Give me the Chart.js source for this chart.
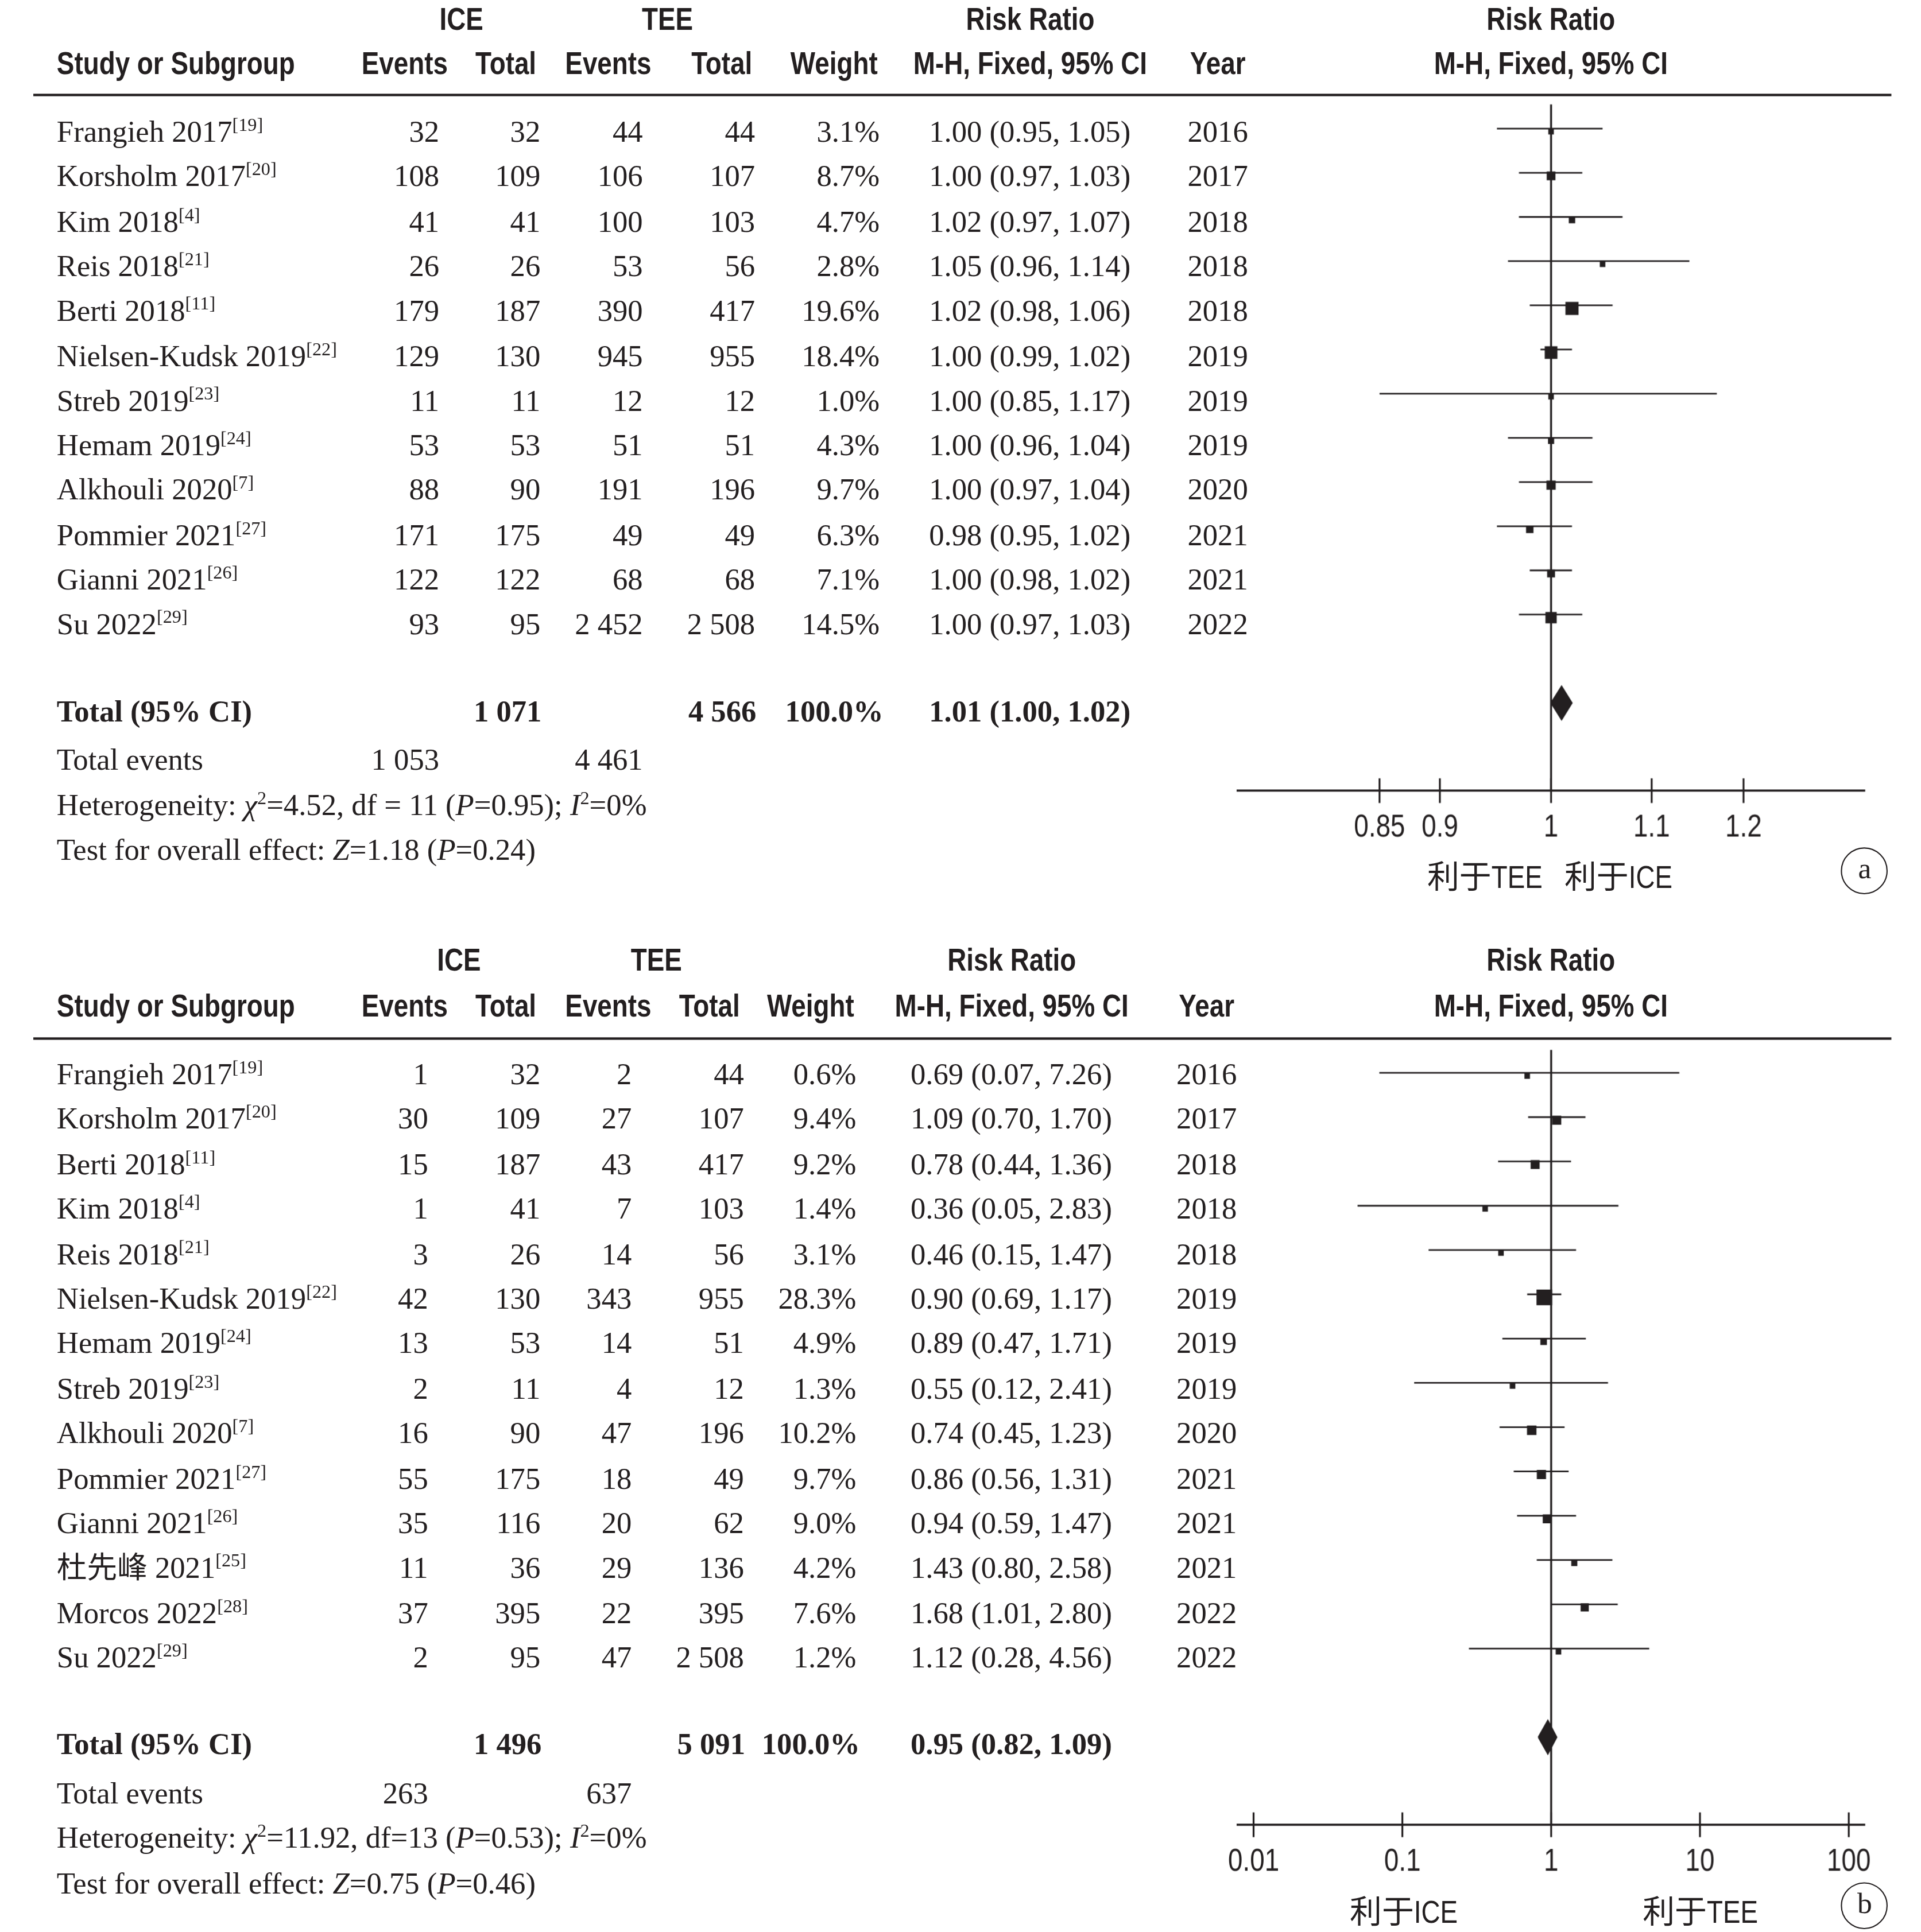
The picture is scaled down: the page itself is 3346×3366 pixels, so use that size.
<!DOCTYPE html>
<html>
<head>
<meta charset="utf-8">
<script src="https://cdn.jsdelivr.net/npm/chart.js@4.4.1/dist/chart.umd.min.js"></script>
<style>
  html, body { margin: 0; padding: 0; background: #fff; overflow: hidden; }
  #page { position: absolute; left: 0; top: 0; width: 1557px; height: 1566px; transform-origin: 0 0; color: #231f20; }
  .t { position: absolute; white-space: nowrap; height: 30px; line-height: 30px; }
  .hd { font-family: "Liberation Sans", Arial, sans-serif; font-weight: bold; font-size: 26px; }
  .sn { font-family: "Liberation Sans", Arial, "Noto Sans CJK SC", sans-serif; font-size: 26px; }
  .cj { font-family: "Noto Sans CJK SC", sans-serif; }
  .sq { display: inline-block; transform: scaleX(0.82); transform-origin: 0 50%; margin-right: -0.36em; }
  .sr { font-family: "Liberation Serif", "Times New Roman", "Noto Sans CJK SC", serif; font-size: 24.5px; }
  .b { font-weight: bold; }
  .sup { font-size: 15px; position: relative; top: -9px; }
  .rule { position: absolute; background: #231f20; }
  .circ { position: absolute; width: 36px; height: 36px; border: 1.6px solid #231f20; border-radius: 50%;
          font-family: "Liberation Serif", serif; font-size: 24px; line-height: 32px; text-align: center; }
  .plot { position: absolute; }
</style>
</head>
<body>
<div id="page"></div>
<script>
// ---------- panel a data ----------
const studiesA = ["Frangieh 2017", "Korsholm 2017", "Kim 2018", "Reis 2018", "Berti 2018", "Nielsen-Kudsk 2019",
                  "Streb 2019", "Hemam 2019", "Alkhouli 2020", "Pommier 2021", "Gianni 2021", "Su 2022"];
const refsA = ["19", "20", "4", "21", "11", "22", "23", "24", "7", "27", "26", "29"];
const iceEventsA = [32, 108, 41, 26, 179, 129, 11, 53, 88, 171, 122, 93];
const iceTotalA = [32, 109, 41, 26, 187, 130, 11, 53, 90, 175, 122, 95];
const teeEventsA = [44, 106, 100, 53, 390, 945, 12, 51, 191, 49, 68, 2452];
const teeTotalA = [44, 107, 103, 56, 417, 955, 12, 51, 196, 49, 68, 2508];
const weightA = [3.1, 8.7, 4.7, 2.8, 19.6, 18.4, 1.0, 4.3, 9.7, 6.3, 7.1, 14.5];
const rrA = [1.00, 1.00, 1.02, 1.05, 1.02, 1.00, 1.00, 1.00, 1.00, 0.98, 1.00, 1.00];
const loA = [0.95, 0.97, 0.97, 0.96, 0.98, 0.99, 0.85, 0.96, 0.97, 0.95, 0.98, 0.97];
const hiA = [1.05, 1.03, 1.07, 1.14, 1.06, 1.02, 1.17, 1.04, 1.04, 1.02, 1.02, 1.03];
const yearA = [2016, 2017, 2018, 2018, 2018, 2019, 2019, 2019, 2020, 2021, 2021, 2022];
const totalA = { ice: 1071, tee: 4566, iceEv: 1053, teeEv: 4461, rr: 1.01, lo: 1.00, hi: 1.02 };
const hetA = "Heterogeneity: <i>χ</i><span class='sup'>2</span>=4.52, df = 11 (<i>P</i>=0.95); <i>I</i><span class='sup'>2</span>=0%";
const testA = "Test for overall effect: <i>Z</i>=1.18 (<i>P</i>=0.24)";
const ticksA = [0.85, 0.9, 1, 1.1, 1.2];

// ---------- panel b data ----------
const studiesB = ["Frangieh 2017", "Korsholm 2017", "Berti 2018", "Kim 2018", "Reis 2018", "Nielsen-Kudsk 2019", "Hemam 2019",
                  "Streb 2019", "Alkhouli 2020", "Pommier 2021", "Gianni 2021", "杜先峰 2021", "Morcos 2022", "Su 2022"];
const refsB = ["19", "20", "11", "4", "21", "22", "24", "23", "7", "27", "26", "25", "28", "29"];
const iceEventsB = [1, 30, 15, 1, 3, 42, 13, 2, 16, 55, 35, 11, 37, 2];
const iceTotalB = [32, 109, 187, 41, 26, 130, 53, 11, 90, 175, 116, 36, 395, 95];
const teeEventsB = [2, 27, 43, 7, 14, 343, 14, 4, 47, 18, 20, 29, 22, 47];
const teeTotalB = [44, 107, 417, 103, 56, 955, 51, 12, 196, 49, 62, 136, 395, 2508];
const weightB = [0.6, 9.4, 9.2, 1.4, 3.1, 28.3, 4.9, 1.3, 10.2, 9.7, 9.0, 4.2, 7.6, 1.2];
const rrB = [0.69, 1.09, 0.78, 0.36, 0.46, 0.90, 0.89, 0.55, 0.74, 0.86, 0.94, 1.43, 1.68, 1.12];
const loB = [0.07, 0.70, 0.44, 0.05, 0.15, 0.69, 0.47, 0.12, 0.45, 0.56, 0.59, 0.80, 1.01, 0.28];
const hiB = [7.26, 1.70, 1.36, 2.83, 1.47, 1.17, 1.71, 2.41, 1.23, 1.31, 1.47, 2.58, 2.80, 4.56];
const yearB = [2016, 2017, 2018, 2018, 2018, 2019, 2019, 2019, 2020, 2021, 2021, 2021, 2022, 2022];
const totalB = { ice: 1496, tee: 5091, iceEv: 263, teeEv: 637, rr: 0.95, lo: 0.82, hi: 1.09 };
const hetB = "Heterogeneity: <i>χ</i><span class='sup'>2</span>=11.92, df=13 (<i>P</i>=0.53); <i>I</i><span class='sup'>2</span>=0%";
const testB = "Test for overall effect: <i>Z</i>=0.75 (<i>P</i>=0.46)";
const ticksB = [0.01, 0.1, 1, 10, 100];

const ink = "#231f20";
const S = 3346 / 1557;
const NARROW = 0.82;
const page = document.getElementById("page");
page.style.transform = "scale(" + S + ")";

// place a text block centred vertically on y; sq = horizontal squeeze (narrow sans look)
function put(x, y, html, cls, align, sq) {
  const d = document.createElement("div");
  d.className = "t " + cls;
  d.innerHTML = html;
  d.style.left = x + "px";
  d.style.top = (y - 15) + "px";
  const k = sq ? " scaleX(" + sq + ")" : "";
  if (align === "r") { d.style.transform = "translateX(-100%)" + k; d.style.transformOrigin = "100% 50%"; }
  else if (align === "c") { d.style.transform = "translateX(-50%)" + k; d.style.transformOrigin = "50% 50%"; }
  else { d.style.transform = k || "none"; d.style.transformOrigin = "0 50%"; }
  page.appendChild(d);
}
function hd(x, y, s, align) { put(x, y, s, "hd", align, NARROW); }
function rule(x, y, w, h) {
  const d = document.createElement("div");
  d.className = "rule";
  d.style.left = x + "px"; d.style.top = (y - h / 2) + "px";
  d.style.width = w + "px"; d.style.height = h + "px";
  page.appendChild(d);
}
function fmt(n) { return n >= 1000 ? String(n).replace(/(\d)(\d{3})$/, "$1 $2") : String(n); }
function f2(v) { return v.toFixed(2); }

function drawPanel(d, L, id) {
  // headers
  hd(L.hdr.ice, L.h1, "ICE", "c");
  hd(L.hdr.tee, L.h1, "TEE", "c");
  hd(L.hdr.rr, L.h1, "Risk Ratio", "c");
  hd(1257, L.h1, "Risk Ratio", "c");
  hd(46, L.h2, "Study or Subgroup", "l");
  hd(L.hdr.ev1, L.h2, "Events", "c");
  hd(L.hdr.tot1, L.h2, "Total", "c");
  hd(L.hdr.ev2, L.h2, "Events", "c");
  hd(L.hdr.tot2, L.h2, "Total", "c");
  hd(L.hdr.wt, L.h2, "Weight", "c");
  hd(L.hdr.rr, L.h2, "M-H, Fixed, 95% CI", "c");
  hd(L.hdr.yr, L.h2, "Year", "c");
  hd(1257, L.h2, "M-H, Fixed, 95% CI", "c");
  rule(27, L.rule, 1506, 2.4);

  // study rows
  d.studies.forEach((s, i) => {
    const y = L.row0 + i * L.gap;
    put(46, y, s + "<span class='sup'>[" + d.refs[i] + "]</span>", "sr", "l");
    put(L.c.ev1, y, fmt(d.iceEv[i]), "sr", "r");
    put(L.c.tot1, y, fmt(d.iceTot[i]), "sr", "r");
    put(L.c.ev2, y, fmt(d.teeEv[i]), "sr", "r");
    put(L.c.tot2, y, fmt(d.teeTot[i]), "sr", "r");
    put(L.c.wt, y, d.weight[i].toFixed(1) + "%", "sr", "r");
    put(L.c.rr, y, f2(d.rr[i]) + " (" + f2(d.lo[i]) + ", " + f2(d.hi[i]) + ")", "sr", "l");
    put(L.c.yr, y, String(d.year[i]), "sr", "c");
  });

  // totals
  put(46, L.totY, "Total (95% CI)", "sr b", "l");
  put(L.c.tot1 + 1, L.totY, fmt(d.total.ice), "sr b", "r");
  put(L.c.tot2 + 1, L.totY, fmt(d.total.tee), "sr b", "r");
  put(L.c.wt + 3, L.totY, "100.0%", "sr b", "r");
  put(L.c.rr, L.totY, f2(d.total.rr) + " (" + f2(d.total.lo) + ", " + f2(d.total.hi) + ")", "sr b", "l");
  put(46, L.evY, "Total events", "sr", "l");
  put(L.c.ev1, L.evY, fmt(d.total.iceEv), "sr", "r");
  put(L.c.ev2, L.evY, fmt(d.total.teeEv), "sr", "r");
  put(46, L.hetY, d.het, "sr", "l");
  put(46, L.testY, d.test, "sr", "l");

  // favour labels + panel letter
  L.fav.forEach(f => put(f.x, L.labY, "<span class='cj'>利于</span><span class='sq'>" + f.who + "</span>", "sn", f.align));
  const c = document.createElement("div");
  c.className = "circ";
  c.textContent = L.letter;
  c.style.left = (1512 - 19.6) + "px";
  c.style.top = (L.labY - 2 - 19.6) + "px";
  page.appendChild(c);

  // forest plot
  const pad = 24, axisH = 60;
  const areaH = L.axisY - L.rule;
  const holder = document.createElement("div");
  holder.className = "plot";
  holder.style.left = (1003 - pad) + "px";
  holder.style.top = L.rule + "px";
  const cv = document.createElement("canvas");
  cv.id = id;
  cv.width = 508 + 2 * pad;
  cv.height = areaH + axisH;
  holder.appendChild(cv);
  page.appendChild(holder);

  const yMin = -(L.row0 - 10 - L.rule) / L.gap;
  const yMax = yMin + areaH / L.gap;
  const n = d.studies.length;
  const datasets = [];
  d.rr.forEach((v, i) => {
    datasets.push({ data: [{ x: d.lo[i], y: i }, { x: d.hi[i], y: i }], showLine: true, pointRadius: 0,
                    borderColor: ink, borderWidth: 1.3, order: 2 });
  });
  datasets.push({
    data: d.rr.map((v, i) => ({ x: v, y: i + 0.07 })),
    pointStyle: "rect",
    pointRadius: d.weight.map(w => Math.max(4.5, 2.4 * Math.sqrt(w)) / Math.SQRT2),
    backgroundColor: ink, borderColor: ink, borderWidth: 0, order: 0
  });
  const ty = n + 1, h = 0.38;
  datasets.push({
    data: [{ x: d.total.lo, y: ty }, { x: d.total.rr, y: ty - h }, { x: d.total.hi, y: ty },
           { x: d.total.rr, y: ty + h }, { x: d.total.lo, y: ty }],
    showLine: true, fill: "shape", tension: 0, pointRadius: 0,
    borderColor: ink, backgroundColor: ink, borderWidth: 1, order: 1
  });
  datasets.push({ data: [{ x: 1, y: yMin }, { x: 1, y: yMax }], showLine: true, pointRadius: 0,
                  borderColor: ink, borderWidth: 1.6, order: 3 });

  // tick marks cross the axis line; labels drawn narrow like the original
  const tickMarks = {
    id: "tickMarks",
    afterDraw(chart) {
      const sc = chart.scales.x, ctx = chart.ctx, b = chart.chartArea.bottom;
      ctx.save();
      ctx.strokeStyle = ink;
      ctx.fillStyle = ink;
      ctx.lineWidth = 1.5;
      ctx.font = "26px 'Liberation Sans', Arial, sans-serif";
      ctx.textAlign = "center";
      ctx.textBaseline = "middle";
      sc.ticks.forEach(t => {
        const px = sc.getPixelForValue(t.value);
        ctx.beginPath(); ctx.moveTo(px, b - 10); ctx.lineTo(px, b + 10); ctx.stroke();
        ctx.save();
        ctx.translate(px, b + 30);
        ctx.scale(NARROW, 1);
        ctx.fillText(String(t.value), 0, 0);
        ctx.restore();
      });
      ctx.restore();
    }
  };

  new Chart(cv, {
    type: "scatter",
    data: { datasets: datasets },
    options: {
      responsive: false,
      animation: false,
      devicePixelRatio: S * (window.devicePixelRatio || 1),
      layout: { padding: { left: pad, right: pad, top: 0, bottom: 0 } },
      plugins: { legend: { display: false }, tooltip: { enabled: false } },
      scales: {
        x: {
          type: "logarithmic", min: L.xmin, max: L.xmax,
          afterBuildTicks: s => { s.ticks = L.ticks.map(v => ({ value: v })); },
          afterFit: s => { s.height = axisH; },
          grid: { display: false, drawTicks: false },
          border: { display: true, color: ink, width: 1.8 },
          ticks: { display: false }
        },
        y: { type: "linear", reverse: true, min: yMin, max: yMax, display: false }
      }
    },
    plugins: [tickMarks]
  });
}

drawPanel(
  { studies: studiesA, refs: refsA, iceEv: iceEventsA, iceTot: iceTotalA, teeEv: teeEventsA, teeTot: teeTotalA,
    weight: weightA, rr: rrA, lo: loA, hi: hiA, year: yearA, total: totalA, het: hetA, test: testA },
  { h1: 15, h2: 51, rule: 77, row0: 107, gap: 36.3, totY: 577, evY: 616, hetY: 653, testY: 689, axisY: 641, labY: 709,
    hdr: { ice: 374, tee: 541, rr: 835, ev1: 328, tot1: 410, ev2: 493, tot2: 585, wt: 676, yr: 987 },
    c: { ev1: 356, tot1: 438, ev2: 521, tot2: 612, wt: 713, rr: 753, yr: 987 },
    xmin: 0.743, xmax: 1.346, ticks: ticksA, letter: "a",
    fav: [{ x: 1250, who: "TEE", align: "r" }, { x: 1268, who: "ICE", align: "l" }] },
  "plotA");

drawPanel(
  { studies: studiesB, refs: refsB, iceEv: iceEventsB, iceTot: iceTotalB, teeEv: teeEventsB, teeTot: teeTotalB,
    weight: weightB, rr: rrB, lo: loB, hi: hiB, year: yearB, total: totalB, het: hetB, test: testB },
  { h1: 778, h2: 815, rule: 842, row0: 871, gap: 36.4, totY: 1414, evY: 1454, hetY: 1490, testY: 1527, axisY: 1479, labY: 1548,
    hdr: { ice: 372, tee: 532, rr: 820, ev1: 328, tot1: 410, ev2: 493, tot2: 575, wt: 657, yr: 978 },
    c: { ev1: 347, tot1: 438, ev2: 512, tot2: 603, wt: 694, rr: 738, yr: 978 },
    xmin: 0.0078, xmax: 128, ticks: ticksB, letter: "b",
    fav: [{ x: 1137, who: "ICE", align: "c" }, { x: 1378, who: "TEE", align: "c" }] },
  "plotB");
</script>
</body>
</html>
